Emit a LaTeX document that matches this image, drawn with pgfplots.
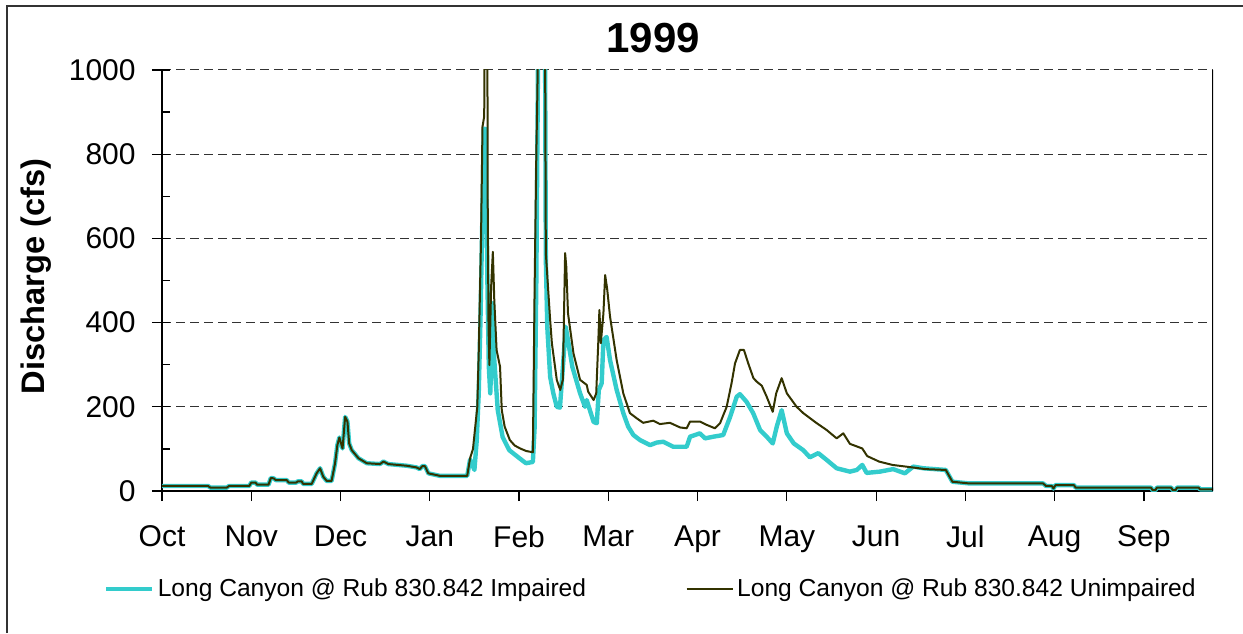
\documentclass[border=0pt]{standalone}
\usepackage{fontspec}
\setmainfont{Liberation Sans}
\usepackage{pgfplots}
\pgfplotsset{compat=1.18}
\definecolor{imp}{RGB}{51,204,204}
\definecolor{unimp}{RGB}{51,51,0}
\definecolor{gridc}{RGB}{50,50,50}
\begin{document}
\begin{tikzpicture}
\path[use as bounding box] (0,0) rectangle (621.5pt,316.5pt);
\draw[line width=0.6pt,black!80] (3.5pt,0) -- (3.5pt,313.5pt) -- (621.5pt,313.5pt);
\begin{axis}[
  at={(81pt,71pt)}, anchor=south west,
  scale only axis, width=525.5pt, height=210.5pt,
  xmin=0, xmax=365, ymin=0, ymax=1000,
  axis x line*=bottom, axis y line*=left,
  axis line style={-, line width=0.7pt, black},
  tick align=outside, major tick length=5pt,
  tick style={line width=0.6pt, black},
  xtick={0,31,62,93,124,155,186,217,248,279,310,341},
  xticklabels={Oct,Nov,Dec,Jan,Feb,Mar,Apr,May,Jun,Jul,Aug,Sep},
  ytick={0,200,400,600,800,1000},
  extra y ticks={0,100,200,300,400,500,600,700,800,900,1000},
  extra y tick labels={},
  extra y tick style={tick align=inside, grid=none, major tick length=4pt},
  ymajorgrids,
  grid style={line width=0.5pt, gridc, dash pattern=on 4.5pt off 2.5pt},
  /pgf/number format/assume math mode=true,
  /pgf/number format/1000 sep={},
  ticklabel style={font=\fontsize{15}{17}\selectfont},
  yticklabel style={inner sep=0pt, xshift=-8pt},
  xticklabel style={inner sep=0pt, yshift=-12pt},
  title={1999},
  title style={at={(axis description cs:0.4672,1.0475)}, anchor=center, inner sep=0pt, font=\bfseries\fontsize{21}{25}\selectfont},
  ylabel={Discharge (cfs)},
  every axis y label/.style={at={(axis description cs:-0.1199,0.509)}, rotate=90, anchor=center, font=\bfseries\fontsize{16.3}{19}\selectfont},
  legend columns=2,
  legend style={at={(axis description cs:-0.0557,-0.2328)}, anchor=west, draw=none, fill=none, inner sep=0pt,
    font=\fontsize{12.3}{15}\selectfont, nodes={inner xsep=1.75pt, inner ysep=1pt},
    /tikz/every even column/.append style={column sep=48pt}},
  legend cell align=left,
  legend image code/.code={\draw[#1] (0pt,0pt) -- (23pt,0pt);},
  line join=round,
]
\addplot[imp, line width=2.2pt] coordinates {
(0,12) (16,12) (16.8,8) (22.5,8) (23.3,12) (30.3,12) (31,20) (32.5,20) (33,15) (37,15) (37.8,31) (38.8,30) (39.5,26) (43.3,26) (44,20) (46.6,20) (47.2,23) (48.5,23) (49,17) (52,17) (53.7,42) (54.9,54) (56,34) (57.2,24) (58.9,24) (60.1,66) (60.9,109) (61.6,127) (62.7,101) (63.6,176) (64.4,165) (65,113) (65.9,97) (68.2,78) (71.1,66) (75.7,64) (76.9,70) (78.6,64) (85,60) (88.4,56) (89.5,52) (90.4,59) (91.3,59) (92.5,42) (96.5,36) (106,36)
(107,75) (108.5,50) (109.3,120) (110,233) (110.6,406) (111.3,667) (111.8,860) (112.3,860) (113,500) (113.5,295) (114,232) (114.5,327) (114.9,446) (115.4,311) (116.6,192) (118.3,128) (120.6,97) (124.1,78) (126.4,66) (128.8,69) (129.4,150) (130,500) (130.5,945) (131,1500) (132.8,1500) (133.3,549) (133.8,390) (134.8,271) (135.9,232) (137.1,200) (138.2,198) (139.4,311) (140.2,390) (141,358) (142.5,295) (145.2,232) (146.9,200) (147.5,216) (148.6,192) (149.9,164) (151,161) (151.7,240) (152.7,256) (153.3,358) (154.4,366) (155.6,311) (157.9,240) (160.2,185) (161.9,153) (163.7,133) (166,121) (169.5,109) (171.8,115) (174.1,117) (177.6,105) (182.2,105) (183.4,129) (186.8,137) (188.6,125) (191.5,129) (194.9,133) (197.3,176) (199.6,224) (200.7,230) (203,212) (205.3,185) (207.7,145) (210,129) (212.1,113) (213.5,153) (215.2,192) (217,137) (219.4,113) (222.7,97) (225,80) (227.9,90) (230.8,74) (234.3,54) (238.9,46) (241.3,50) (243.2,62) (244.7,43) (249.3,46) (253.9,52) (258,42) (260.9,58) (264.4,54) (272.2,50)
(274.5,22) (280.3,18) (306,18) (307,12) (309,12) (309.6,6) (310.3,14) (316.7,14) (317.3,8) (343.5,8) (344,2) (345,2) (345.5,8) (350.5,8) (351,2) (352,2) (352.5,8) (360,8) (360.5,4) (365,4)
};
\addlegendentry{Long Canyon @ Rub 830.842 Impaired}
\addplot[unimp, line width=1pt] coordinates {
(0,12) (16,12) (16.8,8) (22.5,8) (23.3,12) (30.3,12) (31,20) (32.5,20) (33,15) (37,15) (37.8,31) (38.8,30) (39.5,26) (43.3,26) (44,20) (46.6,20) (47.2,23) (48.5,23) (49,17) (52,17) (53.7,42) (54.9,54) (56,34) (57.2,24) (58.9,24) (60.1,66) (60.9,109) (61.6,127) (62.7,101) (63.6,176) (64.4,165) (65,113) (65.9,97) (68.2,78) (71.1,66) (75.7,64) (76.9,70) (78.6,64) (85,60) (88.4,56) (89.5,52) (90.4,59) (91.3,59) (92.5,42) (96.5,36) (106,36)
(107,78) (108,100) (109.5,200) (110,330) (110.8,600) (111.3,865) (111.9,890) (112.3,1500) (112.9,1500) (113.1,700) (113.4,390) (113.7,299) (114.3,485) (114.9,568) (115.4,453) (116.2,335) (117.4,295) (118,192) (119,153) (120.8,121) (122.5,108) (124.4,101) (126.5,95) (128.8,92) (129.4,480) (130,800) (130.4,960) (130.8,1500) (132.8,1500) (133.3,565) (134.2,469) (134.8,406) (135.4,351) (137.1,264) (138.3,240) (139.2,264) (140,565) (140.4,533) (141,422) (142.9,327) (145.2,264) (147.5,252) (148,236) (149.9,216) (150.8,232) (151.5,351) (151.9,430) (152.4,351) (153.3,422) (153.9,513) (154.6,480) (155.6,414) (157.9,311) (160.2,232) (162.5,185) (164.8,173) (167.1,162) (170.6,167) (172.9,159) (176.4,162) (179.9,151) (182.2,149) (183.4,165) (186.8,165) (189.2,157) (192,149) (193.8,161) (196.1,200) (197.8,256) (199,303) (200.7,335) (202.1,335) (203.6,303) (205.4,268) (206.5,260) (208.3,250) (210,224) (212.1,188) (213.3,232) (215.2,268) (217,232) (220.4,200) (222.7,185) (227.4,161) (230.8,145) (234.3,125) (236.6,137) (238.9,112) (243.2,101) (244.9,83) (249,70) (253.6,62) (258.3,58) (265.2,52) (272.2,50)
(274.5,22) (280.3,18) (306,18) (307,12) (309,12) (309.6,6) (310.3,14) (316.7,14) (317.3,8) (343.5,8) (344,2) (345,2) (345.5,8) (350.5,8) (351,2) (352,2) (352.5,8) (360,8) (360.5,4) (365,4)
};
\addlegendentry{Long Canyon @ Rub 830.842 Unimpaired}
\draw[line width=0.7pt, black] (rel axis cs:1,0) -- (rel axis cs:1,1);
\end{axis}
\end{tikzpicture}
\end{document}
